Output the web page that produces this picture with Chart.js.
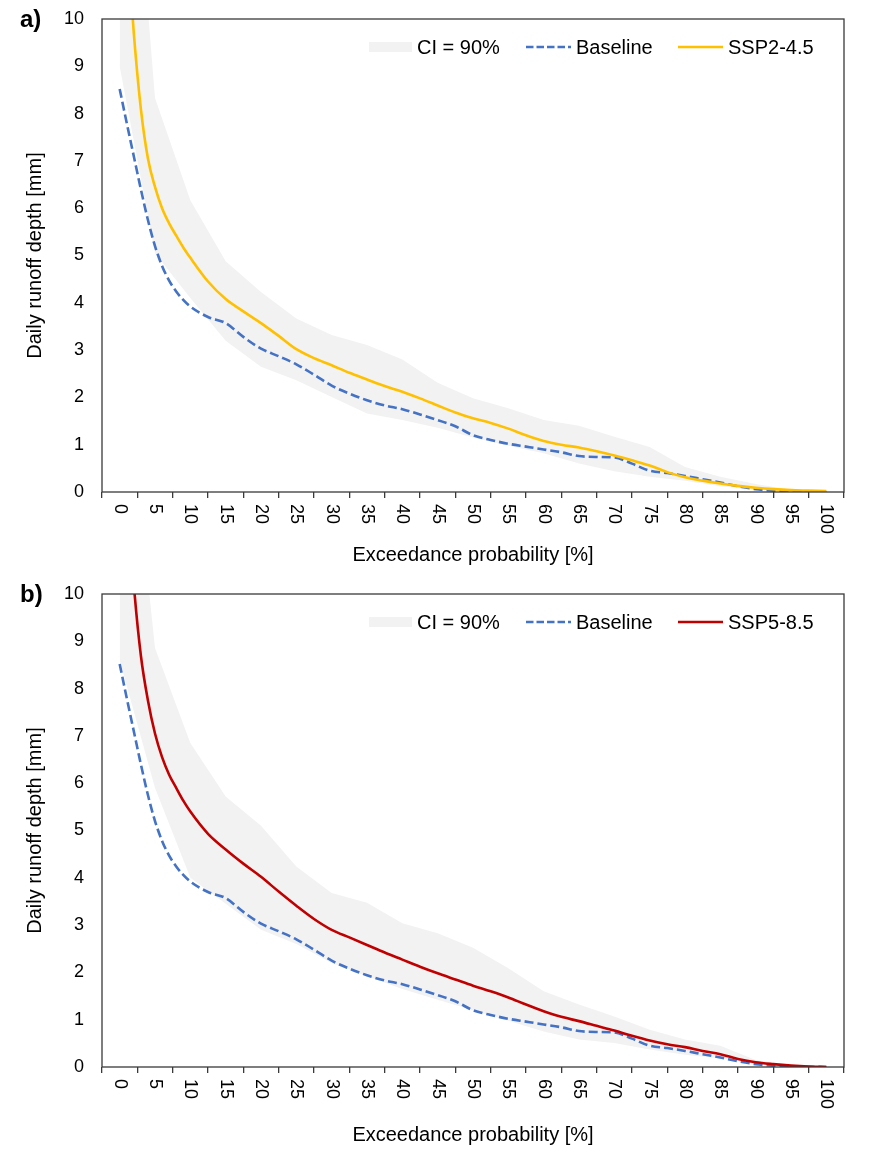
<!DOCTYPE html>
<html>
<head>
<meta charset="utf-8">
<title>Daily runoff depth - flow duration curves</title>
<script src="https://cdn.jsdelivr.net/npm/chart.js@4.4.0/dist/chart.umd.min.js"></script>
<style>
    body { margin: 0; background: #fff; font-family: "Liberation Sans", Arial, sans-serif; color: #000; }
    .panel { position: relative; width: 874px; }
    .panel canvas { position: absolute; left: 0; top: 0; }
    .tag { position: absolute; left: 20px; top: 7px; font-size: 24px; line-height: 24px; font-weight: bold; }
    .legend-item { position: absolute; top: 35px; height: 24px; display: flex; align-items: center; font-size: 20px; line-height: 24px; white-space: nowrap; }
    .legend-item .swatch { margin-right: 5px; display: block; }
</style>
</head>
<body>
<div class="panel" style="height:575px">
    <canvas id="chartA" width="874" height="575"></canvas>
    <div class="tag">a)</div>
    <div id="legendA"></div>
</div>
<div class="panel" style="height:582px">
    <canvas id="chartB" width="874" height="582"></canvas>
    <div class="tag">b)</div>
    <div id="legendB"></div>
</div>

<script>
"use strict";

/** DATA */

// Exceedance probability of the line samples [%]
const probs = [0, 1, 2, 3, 4, 5, 6, 7, 8, 9, 10, 12.5, 15, 17.5, 20, 22.5, 25, 27.5, 30, 32.5, 35, 37.5, 40,
    42.5, 45, 47.5, 50, 52.5, 55, 57.5, 60, 62.5, 65, 67.5, 70, 72.5, 75, 77.5, 80, 82.5, 85, 87.5, 90,
    92.5, 95, 97.5, 100];

// Daily runoff depth [mm]
const baseline = [8.52, 7.8, 7.1, 6.4, 5.75, 5.2, 4.78, 4.47, 4.24, 4.06, 3.92, 3.7, 3.57, 3.28, 3.03,
    2.87, 2.7, 2.48, 2.25, 2.08, 1.94, 1.83, 1.75, 1.64, 1.52, 1.39, 1.2, 1.1, 1.02, 0.96, 0.9, 0.84, 0.76,
    0.74, 0.73, 0.6, 0.45, 0.4, 0.34, 0.27, 0.2, 0.12, 0.06, 0.03, 0.01, 0.005, 0];
const ssp245 = [14, 11.8, 9.7, 8.1, 7.05, 6.45, 6.0, 5.68, 5.42, 5.17, 4.95, 4.45, 4.08, 3.82, 3.57, 3.3,
    3.02, 2.83, 2.68, 2.52, 2.38, 2.24, 2.12, 1.98, 1.83, 1.68, 1.56, 1.46, 1.34, 1.2, 1.08, 1.0, 0.94,
    0.86, 0.77, 0.67, 0.56, 0.42, 0.31, 0.24, 0.18, 0.13, 0.09, 0.06, 0.04, 0.03, 0.02];
const ssp585 = [14.5, 12.3, 10.2, 8.7, 7.75, 7.05, 6.55, 6.18, 5.9, 5.63, 5.4, 4.93, 4.6, 4.3, 4.02,
    3.71, 3.41, 3.13, 2.9, 2.74, 2.58, 2.42, 2.27, 2.12, 1.98, 1.85, 1.72, 1.6, 1.47, 1.32, 1.18, 1.06,
    0.97, 0.87, 0.77, 0.66, 0.56, 0.48, 0.42, 0.34, 0.27, 0.17, 0.1, 0.06, 0.03, 0.01, 0];

// 90 % confidence band, sampled every 5 %
const bandProbs = [0, 5, 10, 15, 20, 25, 30, 35, 40, 45, 50, 55, 60, 65, 70, 75, 80, 85, 90, 95, 100];
const ci245Upper = [17.6, 8.33, 6.17, 4.88, 4.23, 3.67, 3.32, 3.11, 2.8, 2.31, 1.98, 1.77, 1.52, 1.4,
    1.17, 0.95, 0.53, 0.32, 0.17, 0.05, 0.01];
const ci245Lower = [9.0, 5.05, 4.1, 3.2, 2.65, 2.36, 2.01, 1.66, 1.52, 1.36, 1.15, 0.98, 0.82, 0.6,
    0.44, 0.32, 0.24, 0.12, 0.04, 0.01, 0];
const ci585Upper = [16, 8.86, 6.85, 5.72, 5.1, 4.24, 3.68, 3.47, 3.04, 2.83, 2.52, 2.09, 1.6, 1.32,
    1.07, 0.79, 0.58, 0.45, 0.15, 0.03, 0];
const ci585Lower = [8.6, 5.9, 4.0, 3.45, 2.9, 2.6, 2.2, 1.92, 1.65, 1.42, 1.2, 0.98, 0.75, 0.58, 0.51,
    0.37, 0.26, 0.18, 0.06, 0.01, 0];

// Category labels of the x axis
const xTickLabels = ['0', '5', '10', '15', '20', '25', '30', '35', '40', '45', '50', '55', '60', '65',
    '70', '75', '80', '85', '90', '95', '100'];


/** STYLE */

const FONT_FAMILY = '"Liberation Sans", Arial, sans-serif';
const AXIS_COLOR = '#3a3a3a';
const BAND_COLOR = '#f2f2f2';
const BASELINE_COLOR = '#4472c4';

Chart.defaults.font.family = FONT_FAMILY;
Chart.defaults.color = '#000';

const toPoints = (xs, ys) => xs.map((x, i) => ({ x, y: ys[i] }));


/** PLUGINS */

// Box round the plot area
const plotFrame = {
    id: 'plotFrame',
    afterDatasetsDraw(chart) {
        const { ctx, chartArea: { left, top, right, bottom } } = chart;
        ctx.save();
        ctx.strokeStyle = AXIS_COLOR;
        ctx.lineWidth = 1.3;
        ctx.strokeRect(left, top, right - left, bottom - top);
        ctx.restore();
    }
};

// Category labels turned a quarter clockwise, read top to bottom
const rotatedXLabels = {
    id: 'rotatedXLabels',
    afterDraw(chart) {
        const scale = chart.scales.xc;
        const { ctx } = chart;
        ctx.save();
        ctx.font = `18px ${ FONT_FAMILY }`;
        ctx.fillStyle = '#000';
        ctx.textAlign = 'left';
        ctx.textBaseline = 'middle';
        xTickLabels.forEach((label, i) => {
            ctx.save();
            ctx.translate(scale.getPixelForTick(i), chart.chartArea.bottom + 12);
            ctx.rotate(Math.PI / 2);
            ctx.fillText(label, 0, 0);
            ctx.restore();
        });
        ctx.restore();
    }
};


/** LEGEND */

const buildLegend = (el, sspLabel, sspColor) => {
    const items = [
        { left: 369, text: 'CI = 90%',
          swatch: `<svg width="43" height="10"><rect x="0" y="0" width="43" height="10" fill="${ BAND_COLOR }"/></svg>` },
        { left: 526, text: 'Baseline',
          swatch: `<svg width="45" height="10"><line x1="0" y1="5" x2="45" y2="5" stroke="${ BASELINE_COLOR }" stroke-width="2.6" stroke-dasharray="7.5 3"/></svg>` },
        { left: 678, text: sspLabel,
          swatch: `<svg width="45" height="10"><line x1="0" y1="5" x2="45" y2="5" stroke="${ sspColor }" stroke-width="2.6"/></svg>` },
    ];
    el.innerHTML = items.map(item =>
        `<div class="legend-item" style="left:${ item.left }px">${ item.swatch.replace('<svg', '<svg class="swatch"') }<span>${ item.text }</span></div>`
    ).join('');
};


/** CHART PANEL */

const makePanel = (canvasId, sspLabel, sspValues, sspColor, upper, lower, axisHeight, titlePad) => new Chart(document.getElementById(canvasId), {
    type: 'line',
    data: {
        datasets: [
            {
                label: sspLabel,
                data: toPoints(probs, sspValues),
                borderColor: sspColor,
                borderWidth: 2.6,
                pointRadius: 0,
                cubicInterpolationMode: 'monotone',
                fill: false,
                order: 0
            },
            {
                label: 'Baseline',
                data: toPoints(probs, baseline),
                borderColor: BASELINE_COLOR,
                borderWidth: 2.6,
                borderDash: [9, 4],
                pointRadius: 0,
                cubicInterpolationMode: 'monotone',
                fill: false,
                order: 1
            },
            {
                label: 'CI = 90%',
                data: toPoints(bandProbs, upper),
                borderWidth: 0,
                pointRadius: 0,
                backgroundColor: BAND_COLOR,
                fill: '+1',
                order: 2
            },
            {
                label: 'CI lower',
                data: toPoints(bandProbs, lower),
                borderWidth: 0,
                pointRadius: 0,
                fill: false,
                order: 2
            }
        ]
    },
    options: {
        responsive: false,
        animation: false,
        layout: { padding: { left: 0, right: 30, top: 19, bottom: 0 } },
        plugins: {
            legend: { display: false },
            tooltip: { enabled: false }
        },
        scales: {
            // value axis of the data, hidden
            x: {
                type: 'linear',
                display: false,
                min: -2.5,
                max: 102.5
            },
            // category axis that is drawn
            xc: {
                type: 'category',
                position: 'bottom',
                labels: xTickLabels,
                offset: true,
                grid: {
                    display: true,
                    offset: true,
                    drawOnChartArea: false,
                    drawTicks: true,
                    tickLength: 6,
                    color: AXIS_COLOR,
                    lineWidth: 1.3
                },
                border: { display: false },
                ticks: { display: false, autoSkip: false },
                title: {
                    display: true,
                    text: 'Exceedance probability [%]',
                    font: { size: 20 },
                    color: '#000',
                    padding: { top: 0, bottom: titlePad }
                },
                afterFit: scale => { scale.height = axisHeight; }
            },
            y: {
                min: 0,
                max: 10,
                ticks: { stepSize: 1, font: { size: 18 }, color: '#000', padding: 18 },
                grid: { display: false, drawTicks: false },
                border: { display: false },
                title: {
                    display: true,
                    text: 'Daily runoff depth [mm]',
                    font: { size: 20 },
                    color: '#000',
                    padding: { top: 23, bottom: 0 }
                },
                afterFit: scale => {
                    scale.width = 102;
                    // let the top label hang over the layout padding
                    scale.paddingTop = 0;
                    scale.paddingBottom = 0;
                }
            }
        }
    },
    plugins: [plotFrame, rotatedXLabels]
});


/** AS DOCUMENT HAS BEEN LOADED */

(() => {
    makePanel('chartA', 'SSP2-4.5', ssp245, '#ffc000', ci245Upper, ci245Lower, 83, 8);
    makePanel('chartB', 'SSP5-8.5', ssp585, '#c00000', ci585Upper, ci585Lower, 90, 10);

    buildLegend(document.getElementById('legendA'), 'SSP2-4.5', '#ffc000');
    buildLegend(document.getElementById('legendB'), 'SSP5-8.5', '#c00000');
})();
</script>
</body>
</html>
